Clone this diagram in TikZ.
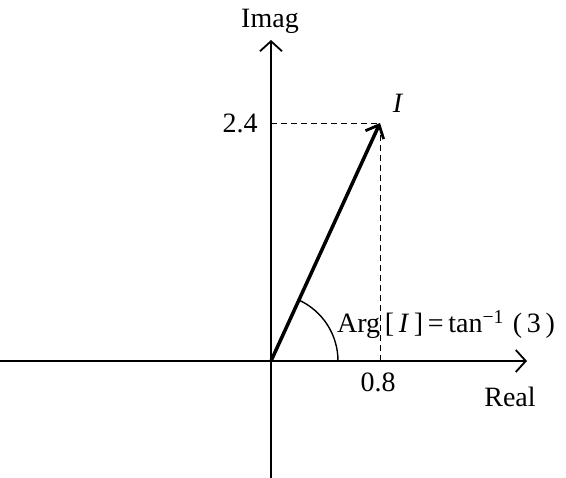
\documentclass[tikz,border=0pt]{standalone}
\usepackage{fontspec}
\setmainfont{Liberation Serif}
\usetikzlibrary{arrows.meta}
\begin{document}
\begin{tikzpicture}[x=1pt,y=-1pt,
  axis/.style={line width=1.8pt,-{Straight Barb[length=10pt,width=22pt,line width=1.8pt]}},
  lbl/.style={font=\fontsize{28}{32}\selectfont,inner sep=0pt,anchor=base},
  guide/.style={dashed,line width=0.7pt,dash pattern=on 6pt off 4pt}]
\useasboundingbox (0,0) rectangle (566,478);
\coordinate (O) at (271,361);
\coordinate (xl) at (0,361);
\coordinate (xr) at (527,361);
\coordinate (yb) at (271,478);
\coordinate (yt) at (271,40);
\coordinate (P) at (380,123);
\coordinate (Px) at (380,361);
\coordinate (Py) at (271,123);
\draw[guide] (Py) -- (P);
\draw[guide] (Px) -- (P);
\draw[axis] (xl) -- (xr);
\draw[axis] (yb) -- (yt);
\draw[line width=3.5pt,-{Straight Barb[length=11pt,width=20pt,line width=2.8pt]}] (O) -- (P);
\draw[line width=1.4pt] (338,361) arc[start angle=0,end angle=-65.6,radius=67];
\node[lbl] (imag) at (270,28) {Imag};
\node[lbl] (real) at (510,407) {Real};
\node[lbl] (x08) at (378,392) {0.8};
\node[lbl] (y24) at (240,133) {2.4};
\node[lbl] (I) at (398,113) {\textit{I}};
\node[lbl,anchor=base west] (arg) at (337,333) {Arg\,[\,\textit{I}\,]\,=\,tan\textsuperscript{\char"2212 1}\hspace{9pt}(\,3\,)};
\end{tikzpicture}
\end{document}
